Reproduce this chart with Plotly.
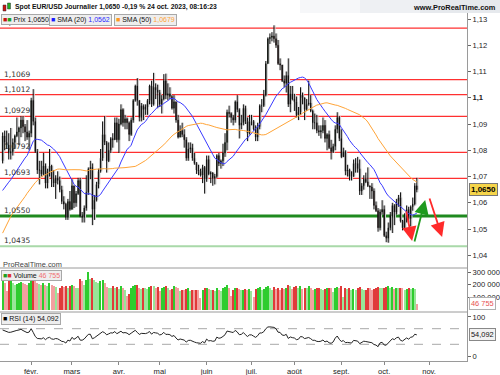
import pandas as pd
import plotly.graph_objects as go
from plotly.subplots import make_subplots

# ---------------- data ----------------
start_date = "2023-01-12"
end_date = "2023-10-24"

# closes before the visible window (Nov 1 2022 .. Jan 11 2023), only used to seed SMA / RSI
prior_close = [
    0.9877, 0.9820, 0.9750, 0.9960, 1.0020, 1.0075, 1.0010, 1.0210, 1.0355, 1.0325, 1.0350,
    1.0395, 1.0365, 1.0325, 1.0240, 1.0305, 1.0395, 1.0410, 1.0400, 1.0340, 1.0330, 1.0405,
    1.0520, 1.0535, 1.0490, 1.0465, 1.0505, 1.0555, 1.0530, 1.0540, 1.0630, 1.0680, 1.0625,
    1.0585, 1.0605, 1.0620, 1.0605, 1.0595, 1.0615, 1.0635, 1.0640, 1.0615, 1.0660, 1.0705,
    1.0665, 1.0545, 1.0605, 1.0520, 1.0645, 1.0730, 1.0735, 1.0760,
]
first_open = 1.0760

close = [
    1.0855, 1.0830, 1.0820, 1.0790, 1.0795, 1.0830, 1.0855, 1.0870, 1.0885, 1.0915, 1.0890, 1.0870, 1.0850, 1.0865,
    1.0990, 1.0910, 1.0795, 1.0725, 1.0725, 1.0710, 1.0740, 1.0675, 1.0720, 1.0740, 1.0690, 1.0675, 1.0695, 1.0685, 1.0650, 1.0605, 1.0595, 1.0545, 1.0605, 1.0575,
    1.0665, 1.0600, 1.0635, 1.0685, 1.0550, 1.0545, 1.0580, 1.0640, 1.0730, 1.0735, 1.0575, 1.0610, 1.0670, 1.0720, 1.0770, 1.0860, 1.0830, 1.0760, 1.0800, 1.0845, 1.0840, 1.0905, 1.0840,
    1.0900, 1.0955, 1.0905, 1.0920, 1.0905, 1.0860, 1.0915, 1.0990, 1.1045, 1.0990, 1.0925, 1.0970, 1.0955, 1.0965, 1.0990, 1.1045, 1.0975, 1.1040, 1.1030, 1.1020,
    1.0975, 1.0995, 1.1065, 1.1010, 1.1015, 1.1005, 1.0960, 1.0985, 1.0915, 1.0850, 1.0875, 1.0860, 1.0840, 1.0770, 1.0805, 1.0810, 1.0770, 1.0750, 1.0725, 1.0720, 1.0705, 1.0735, 1.0690,
    1.0765, 1.0710, 1.0715, 1.0695, 1.0700, 1.0780, 1.0750, 1.0760, 1.0790, 1.0830, 1.0945, 1.0940, 1.0925, 1.0915, 1.0985, 1.0955, 1.0895, 1.0905, 1.0960, 1.0910, 1.0865, 1.0910,
    1.0910, 1.0880, 1.0850, 1.0890, 1.0970, 1.0970, 1.1010, 1.1130, 1.1225, 1.1230, 1.1235, 1.1225, 1.1200, 1.1130, 1.1125, 1.1065, 1.1055, 1.1085, 1.0975, 1.1015, 1.0995,
    1.0985, 1.0935, 1.0945, 1.1010, 1.1000, 1.0955, 1.0975, 1.0980, 1.0950, 1.0905, 1.0905, 1.0875, 1.0870, 1.0875, 1.0895, 1.0845, 1.0860, 1.0810, 1.0795, 1.0815, 1.0880, 1.0925, 1.0845,
    1.0775, 1.0795, 1.0720, 1.0725, 1.0700, 1.0700, 1.0750, 1.0750, 1.0730, 1.0645, 1.0665, 1.0690, 1.0680, 1.0665, 1.0660, 1.0645, 1.0590, 1.0570, 1.0505, 1.0565, 1.0575,
    1.0475, 1.0465, 1.0505, 1.0550, 1.0590, 1.0565, 1.0605, 1.0620, 1.0530, 1.0505, 1.0545, 1.0575, 1.0540, 1.0585, 1.0595, 1.0665, 1.0650,
]
high = [
    1.0868, 1.0875, 1.0875, 1.0865, 1.0885, 1.0845, 1.0860, 1.0925, 1.0890, 1.0930, 1.0930, 1.0900, 1.0915, 1.0875,
    1.1000, 1.1033, 1.0925, 1.0805, 1.0760, 1.0760, 1.0790, 1.0750, 1.0730, 1.0805, 1.0745, 1.0725, 1.0705, 1.0720, 1.0700, 1.0665, 1.0625, 1.0600, 1.0615, 1.0645,
    1.0690, 1.0665, 1.0645, 1.0695, 1.0695, 1.0565, 1.0590, 1.0705, 1.0735, 1.0760, 1.0750, 1.0630, 1.0680, 1.0730, 1.0805, 1.0910, 1.0930, 1.0835, 1.0830, 1.0850, 1.0865, 1.0925, 1.0925,
    1.0920, 1.0975, 1.0960, 1.0935, 1.0925, 1.0910, 1.0925, 1.0995, 1.1050, 1.1075, 1.0990, 1.0980, 1.0975, 1.0975, 1.0995, 1.1050, 1.1065, 1.1095, 1.1055, 1.1050,
    1.1030, 1.1010, 1.1090, 1.1092, 1.1055, 1.1040, 1.1010, 1.1010, 1.0985, 1.0935, 1.0895, 1.0905, 1.0880, 1.0850, 1.0830, 1.0830, 1.0825, 1.0790, 1.0755, 1.0745, 1.0730, 1.0745, 1.0740,
    1.0780, 1.0780, 1.0720, 1.0715, 1.0710, 1.0785, 1.0790, 1.0765, 1.0825, 1.0865, 1.0955, 1.0970, 1.0945, 1.0935, 1.0990, 1.1010, 1.0960, 1.0935, 1.0975, 1.0970, 1.0925, 1.0935,
    1.0935, 1.0915, 1.0895, 1.0905, 1.0975, 1.0995, 1.1030, 1.1140, 1.1230, 1.1245, 1.1250, 1.1276, 1.1245, 1.1220, 1.1150, 1.1125, 1.1085, 1.1100, 1.1150, 1.1045, 1.1045,
    1.1015, 1.1005, 1.0965, 1.1040, 1.1020, 1.0995, 1.0995, 1.1065, 1.1010, 1.0955, 1.0940, 1.0935, 1.0895, 1.0895, 1.0925, 1.0915, 1.0865, 1.0875, 1.0840, 1.0825, 1.0895, 1.0945, 1.0930,
    1.0880, 1.0810, 1.0800, 1.0745, 1.0730, 1.0720, 1.0765, 1.0770, 1.0775, 1.0765, 1.0675, 1.0705, 1.0715, 1.0735, 1.0665, 1.0675, 1.0655, 1.0605, 1.0580, 1.0575, 1.0610,
    1.0590, 1.0490, 1.0525, 1.0565, 1.0600, 1.0595, 1.0615, 1.0630, 1.0640, 1.0535, 1.0560, 1.0590, 1.0585, 1.0590, 1.0620, 1.0675, 1.0695,
]
low = [
    1.0750, 1.0800, 1.0805, 1.0765, 1.0765, 1.0780, 1.0805, 1.0850, 1.0820, 1.0850, 1.0865, 1.0835, 1.0840, 1.0800,
    1.0850, 1.0895, 1.0790, 1.0710, 1.0670, 1.0700, 1.0705, 1.0655, 1.0655, 1.0700, 1.0660, 1.0660, 1.0615, 1.0670, 1.0640, 1.0595, 1.0575, 1.0535, 1.0535, 1.0570,
    1.0575, 1.0580, 1.0585, 1.0630, 1.0545, 1.0525, 1.0525, 1.0570, 1.0630, 1.0690, 1.0515, 1.0535, 1.0605, 1.0655, 1.0715, 1.0760, 1.0820, 1.0715, 1.0755, 1.0790, 1.0810, 1.0840, 1.0830,
    1.0790, 1.0895, 1.0890, 1.0880, 1.0880, 1.0835, 1.0855, 1.0905, 1.0985, 1.0970, 1.0910, 1.0910, 1.0915, 1.0935, 1.0935, 1.0975, 1.0965, 1.0970, 1.0995, 1.0960,
    1.0965, 1.0940, 1.0990, 1.0995, 1.0990, 1.0995, 1.0955, 1.0940, 1.0905, 1.0845, 1.0850, 1.0850, 1.0810, 1.0760, 1.0760, 1.0790, 1.0760, 1.0745, 1.0710, 1.0705, 1.0700, 1.0675, 1.0635,
    1.0680, 1.0705, 1.0675, 1.0665, 1.0670, 1.0695, 1.0740, 1.0730, 1.0740, 1.0775, 1.0800, 1.0925, 1.0905, 1.0895, 1.0905, 1.0945, 1.0845, 1.0880, 1.0895, 1.0900, 1.0835, 1.0860,
    1.0895, 1.0875, 1.0835, 1.0835, 1.0880, 1.0945, 1.0965, 1.1005, 1.1130, 1.1205, 1.1215, 1.1210, 1.1190, 1.1125, 1.1105, 1.1060, 1.1040, 1.1020, 1.0965, 1.0945, 1.0990,
    1.0950, 1.0925, 1.0915, 1.0935, 1.0975, 1.0915, 1.0950, 1.0970, 1.0945, 1.0880, 1.0880, 1.0865, 1.0855, 1.0845, 1.0865, 1.0830, 1.0800, 1.0805, 1.0765, 1.0790, 1.0800, 1.0865, 1.0835,
    1.0770, 1.0775, 1.0705, 1.0700, 1.0685, 1.0685, 1.0700, 1.0715, 1.0715, 1.0630, 1.0630, 1.0650, 1.0675, 1.0660, 1.0615, 1.0615, 1.0575, 1.0565, 1.0490, 1.0495, 1.0555,
    1.0470, 1.0450, 1.0448, 1.0495, 1.0485, 1.0515, 1.0555, 1.0585, 1.0525, 1.0495, 1.0505, 1.0525, 1.0525, 1.0510, 1.0570, 1.0590, 1.0640,
]
volume_k = [
    225, 210, 150, 230, 240, 215, 200, 205, 215, 220, 210, 205, 200, 215,
    230, 255, 245, 215, 205, 200, 210, 195, 185, 210, 200, 185, 180, 130, 175, 185, 180, 190, 175, 185,
    195, 185, 175, 170, 245, 225, 200, 235, 300, 245, 255, 235, 220, 215, 230, 235, 210, 180, 175, 170, 185, 175, 180,
    165, 185, 170, 160, 110, 125, 170, 185, 195, 200, 170, 165, 175, 170, 165, 180, 190, 185, 175, 180,
    150, 175, 180, 190, 170, 160, 165, 185, 180, 175, 150, 160, 155, 165, 170, 150, 160, 155, 160, 155, 95, 160, 175,
    175, 165, 155, 160, 150, 170, 155, 150, 175, 180, 200, 170, 110, 160, 170, 175, 165, 155, 160, 165, 160, 165,
    150, 100, 165, 175, 180, 155, 165, 180, 185, 170, 160, 180, 165, 170, 160, 170, 165, 175, 200, 185, 165,
    180, 185, 175, 190, 165, 175, 170, 185, 175, 160, 165, 170, 175, 165, 155, 165, 170, 175, 170, 140, 175, 180, 175,
    185, 100, 175, 165, 170, 160, 165, 160, 170, 180, 165, 155, 160, 175, 170, 160, 165, 170, 180, 175, 170,
    175, 180, 185, 175, 180, 165, 175, 170, 175, 170, 160, 165, 170, 165, 170, 165, 46.755,
]

level_values = [1.1265, 1.1069, 1.1012, 1.0929, 1.0792, 1.0693, 1.0550, 1.0435]
level_labels = ["1,1265", "1,1069", "1,1012", "1,0929", "1,0792", "1,0693", "1,0550", "1,0435"]
level_kinds = ["res", "res", "res", "res", "res", "res", "support", "support_low"]

price_ticks = [1.04, 1.05, 1.06, 1.07, 1.08, 1.09, 1.10, 1.11, 1.12, 1.13]
price_ticktext = ["1,04", "1,05", "1,06", "1,07", "1,08", "1,09", "<b>1,1</b>", "1,11", "1,12", "1,13"]
vol_ticks = [100000, 200000, 300000]
vol_ticktext = ["100 000", "200 000", "300 000"]
rsi_ticks = [0, 100]
rsi_ticktext = ["0", "100"]

month_starts = ["2023-02-01", "2023-03-01", "2023-04-01", "2023-05-01", "2023-06-01",
                "2023-07-01", "2023-08-01", "2023-09-01", "2023-10-01", "2023-11-01"]
month_labels = ["févr.", "mars", "avr.", "mai", "juin", "juil.", "août", "sept.", "oct.", "nov."]

title_text = "Spot EUR/USD Journalier 1,0650 -0,19 % 24 oct. 2023, 08:16:23"
last_price_text = "1,0650"
last_price = 1.0650
sma20_text = "1,0562"
sma50_text = "1,0679"
vol_last_text = "46 755"
vol_last = 46755
rsi_last_text = "54,092"
rsi_last = 54.092

# hand-drawn arrows: (tail_day, tail_price, head_day, head_price, colour)
arrows = [
    (197.7, 1.0573, 200.7, 1.0455, "#ff2a2a"),
    (201.7, 1.0447, 207.1, 1.0611, "#1f9a1f"),
    (209.0, 1.0622, 215.4, 1.0470, "#ff2a2a"),
]

# ---------------- derived ----------------
dates = pd.bdate_range(start_date, end_date)
n = len(close)
assert len(dates) == n == len(high) == len(low) == len(volume_k)
xi = list(range(n))
open_ = [first_open] + close[:-1]

s = pd.Series(prior_close + close)
npre = len(prior_close)
sma20 = s.rolling(20).mean().iloc[npre:].tolist()
sma50 = s.rolling(50).mean().iloc[npre:].tolist()
d = s.diff()
g = d.clip(lower=0).ewm(alpha=1 / 14, adjust=False).mean()
l_ = (-d.clip(upper=0)).ewm(alpha=1 / 14, adjust=False).mean()
rsi = (100 - 100 / (1 + g / l_)).iloc[npre:].tolist()

volume = [v * 1000 for v in volume_k]
vcol = []
for i in range(n):
    prev_c = close[i - 1] if i > 0 else first_open
    prev_v = volume[i - 1] if i > 0 else volume[i]
    up = close[i] >= prev_c
    strong = volume[i] >= prev_v
    if up:
        vcol.append("#2ecc2e" if strong else "#98e698")
    else:
        vcol.append("#e03a3a" if strong else "#f2a0a0")

start_ts = pd.Timestamp(start_date)
month_pos = [len(pd.bdate_range(start_ts, pd.Timestamp(m) - pd.Timedelta(days=1))) for m in month_starts]

# ---------------- layout geometry ----------------
W, H = 500, 375
mt, mb, ml, mr = 13, 14, 0, 33
ph = H - mt - mb
pw = W - ml - mr
def py(p):  # pixel y (from top) -> paper y
    return 1 - (p - mt) / ph
def px(p):
    return (p - ml) / pw

d_rsi = [0, py(312)]
d_vol = [py(312), py(268)]
d_price = [py(268), 1]

x_range = [-1.27, 227.6]
FONT = "Liberation Sans, Arial, sans-serif"

fig = make_subplots(rows=3, cols=1, shared_xaxes=True, vertical_spacing=0)

fig.add_trace(go.Candlestick(
    x=[v + 0.55 for v in xi], open=open_, high=high, low=low, close=close,
    increasing=dict(line=dict(color="#cdcdcd", width=1), fillcolor="#cdcdcd"),
    decreasing=dict(line=dict(color="#cdcdcd", width=1), fillcolor="#cdcdcd"),
    whiskerwidth=0, showlegend=False, hoverinfo="skip"), row=1, col=1)
fig.add_trace(go.Candlestick(
    x=xi, open=open_, high=high, low=low, close=close,
    increasing=dict(line=dict(color="#111111", width=1), fillcolor="#1f9a1f"),
    decreasing=dict(line=dict(color="#111111", width=1), fillcolor="#9e1212"),
    whiskerwidth=0, showlegend=False), row=1, col=1)
fig.add_trace(go.Scatter(x=xi, y=sma20, mode="lines", line=dict(color="#3a3aff", width=1),
                         showlegend=False), row=1, col=1)
fig.add_trace(go.Scatter(x=xi, y=sma50, mode="lines", line=dict(color="#ffa437", width=1),
                         showlegend=False), row=1, col=1)

fig.add_trace(go.Bar(x=xi, y=volume, marker=dict(color=vcol, line=dict(width=0)), width=0.55,
                     showlegend=False), row=2, col=1)
fig.add_trace(go.Scatter(x=xi, y=rsi, mode="lines", line=dict(color="#222222", width=1),
                         showlegend=False), row=3, col=1)

shapes = []
for v, k in zip(level_values, level_kinds):
    if k == "res":
        ln = dict(color="#ff3030", width=1.2)
    elif k == "support":
        ln = dict(color="#1f8a1f", width=3)
    else:
        ln = dict(color="#a9d9a9", width=2)
    shapes.append(dict(type="line", xref="x domain", yref="y", x0=0, x1=1, y0=v, y1=v,
                       line=ln, layer="below"))
for v in (30, 70):
    shapes.append(dict(type="line", xref="x3 domain", yref="y3", x0=0, x1=1, y0=v, y1=v,
                       line=dict(color="#a8a8a8", width=1, dash="dash"), layer="below"))
for yy in (268, 312):
    shapes.append(dict(type="line", xref="paper", yref="paper", x0=0, x1=1, y0=py(yy), y1=py(yy),
                       line=dict(color="#9a9a9a", width=1)))
for i, c in enumerate(["#f6f7f9", "#eef0f3", "#e6e9ed"]):
    shapes.append(dict(type="rect", xref="paper", yref="paper", x0=px(300 + i * 60), x1=px(500),
                       y0=py(13), y1=py(0), line=dict(width=0), fillcolor=c, layer="below"))
shapes.append(dict(type="rect", xref="paper", yref="paper", x0=px(3), x1=px(6), y0=py(11), y1=py(5),
                   fillcolor="#cc1111", line=dict(color="#333", width=0.5)))
shapes.append(dict(type="rect", xref="paper", yref="paper", x0=px(7.5), x1=px(10.5), y0=py(9), y1=py(3),
                   fillcolor="#22aa22", line=dict(color="#333", width=0.5)))

ann = []
ann.append(dict(text="<b>" + title_text + "</b>", xref="paper", yref="paper", x=px(13), y=py(7),
                xanchor="left", yanchor="middle", showarrow=False,
                font=dict(family=FONT, size=6.8, color="#111")))
ann.append(dict(text="<b>www.ProRealTime.com</b>", xref="paper", yref="paper", x=px(498), y=py(7),
                xanchor="right", yanchor="middle", showarrow=False,
                font=dict(family=FONT, size=7.4, color="#111")))
for v, t in zip(level_values, level_labels):
    ann.append(dict(text=t, xref="paper", yref="y", x=px(2), y=v, xanchor="left", yanchor="bottom",
                    showarrow=False, font=dict(family="DejaVu Sans, sans-serif", size=7.5, color="#333"),
                    yshift=-1))
box = dict(bgcolor="#eeeeee", bordercolor="#a8a8a8", borderwidth=1, borderpad=1, showarrow=False,
           xref="paper", yref="paper", xanchor="left", yanchor="top", font=dict(family=FONT, size=7, color="#111"))
ann.append(dict(box, text="<span style='color:#c41010'>■</span><span style='color:#1e9e1e'>■</span> Prix 1,0650",
                x=px(1), y=py(14)))
ann.append(dict(box, text="<span style='color:#1a1aff'>■</span> SMA (20) <span style='color:#2a2aff'>" + sma20_text + "</span>",
                x=px(49), y=py(14)))
ann.append(dict(box, text="<span style='color:#ff9922'>■</span> SMA (50) <span style='color:#ffa437'>" + sma50_text + "</span>",
                x=px(114), y=py(14)))
ann.append(dict(box, text="<span style='color:#1e9e1e'>■</span><span style='color:#e03030'>■</span> Volume <span style='color:#f07070'>" + vol_last_text + "</span>",
                x=px(1), y=py(270)))
ann.append(dict(box, text="<span style='color:#000'>■</span> RSI (14) " + rsi_last_text,
                x=px(1), y=py(313)))
ann.append(dict(text="ProRealTime.com", xref="paper", yref="paper", x=px(1), y=py(264), xanchor="left",
                yanchor="middle", showarrow=False, font=dict(family=FONT, size=7.4, color="#444")))
ann.append(dict(text="<b>" + last_price_text + "</b>", xref="paper", yref="y", x=1, y=last_price,
                xanchor="left", yanchor="middle", xshift=2, showarrow=False, bgcolor="#f6d54a",
                bordercolor="#777", borderwidth=1, borderpad=1, font=dict(family=FONT, size=8, color="#000")))
ann.append(dict(text=vol_last_text, xref="paper", yref="y2", x=1, y=vol_last,
                xanchor="left", yanchor="middle", xshift=2, showarrow=False, bgcolor="#ffffff",
                bordercolor="#b0b0b0", borderwidth=1, borderpad=1, font=dict(family=FONT, size=7.4, color="#e85050")))
ann.append(dict(text=rsi_last_text, xref="paper", yref="y3", x=1, y=rsi_last,
                xanchor="left", yanchor="middle", xshift=2, showarrow=False, bgcolor="#f2f2f2",
                bordercolor="#888", borderwidth=1, borderpad=1, font=dict(family=FONT, size=7.4, color="#111")))
for (x0, y0, x1, y1, c) in arrows:
    ann.append(dict(x=x1, y=y1, ax=x0, ay=y0, xref="x", yref="y", axref="x", ayref="y", text="",
                    showarrow=True, arrowhead=2, arrowsize=1.6, arrowwidth=1.8, arrowcolor=c))

axis_font = dict(family=FONT, size=7.6, color="#222")
fig.update_layout(
    width=W, height=H, margin=dict(l=ml, r=mr, t=mt, b=mb, autoexpand=False),
    paper_bgcolor="white", plot_bgcolor="rgba(0,0,0,0)", showlegend=False,
    shapes=shapes, annotations=ann, bargap=0,
    xaxis=dict(range=x_range, showticklabels=False, showgrid=False, zeroline=False,
               rangeslider=dict(visible=False), domain=[0, 1]),
    xaxis2=dict(range=x_range, showticklabels=False, showgrid=False, zeroline=False,
                rangeslider=dict(visible=False), domain=[0, 1]),
    xaxis3=dict(range=x_range, showgrid=False, zeroline=False, tickvals=month_pos, ticktext=month_labels,
                ticks="outside", ticklen=3, tickcolor="#888", tickfont=axis_font, showline=True,
                linecolor="#9a9a9a", linewidth=1, rangeslider=dict(visible=False), domain=[0, 1]),
    yaxis=dict(domain=d_price, range=[1.13 - (268 - 19) / 2626, 1.13 + (19 - 13) / 2626], side="right",
               tickvals=price_ticks, ticktext=price_ticktext, ticks="outside", ticklen=3, tickcolor="#666",
               tickfont=axis_font, showgrid=False, zeroline=False, showline=True, linecolor="#9a9a9a"),
    yaxis2=dict(domain=d_vol, range=[-20000, 332000], side="right", tickvals=vol_ticks, ticktext=vol_ticktext,
                ticks="outside", ticklen=3, tickcolor="#666", tickfont=axis_font, showgrid=False,
                zeroline=False, showline=True, linecolor="#9a9a9a"),
    yaxis3=dict(domain=d_rsi, range=[-12.8, 112.8], side="right", tickvals=rsi_ticks, ticktext=rsi_ticktext,
                ticks="outside", ticklen=3, tickcolor="#666", tickfont=axis_font, showgrid=False,
                zeroline=False, showline=True, linecolor="#9a9a9a"),
)
fig.write_html("out.html", config={"displayModeBar": False},
               post_script="document.body.style.margin='0';document.body.style.padding='0';")
